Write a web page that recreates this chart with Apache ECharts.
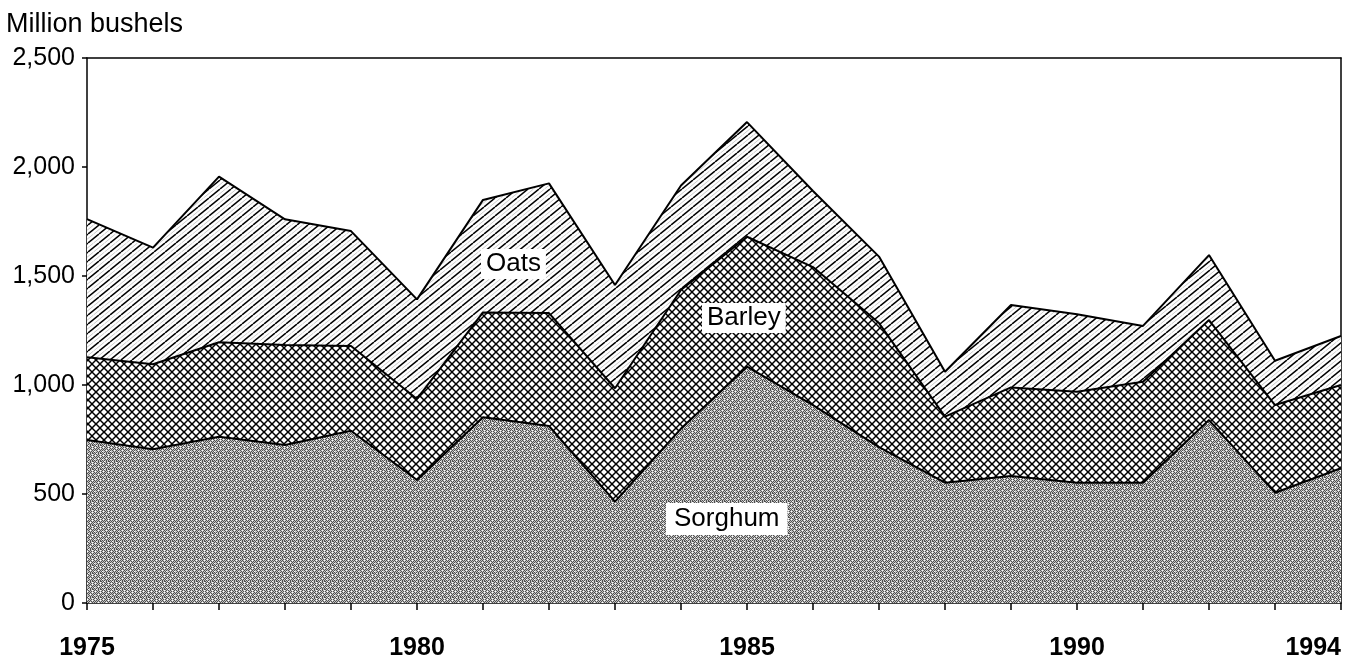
<!DOCTYPE html>
<html>
<head>
<meta charset="utf-8">
<script src="https://cdn.jsdelivr.net/npm/echarts@6/dist/echarts.min.js"></script>
<style>
html,body{margin:0;padding:0;background:#fff;}
#c{width:1348px;height:664px;}
</style>
</head>
<body>
<div id="c"></div>
<script>
const years = ['1975','1976','1977','1978','1979','1980','1981','1982','1983','1984','1985','1986','1987','1988','1989','1990','1991','1992','1993','1994'];
const sorghum = [748,705,763,725,790,564,852,812,465,800,1084,908,715,552,583,552,552,839,506,618];
const barley  = [379,390,433,458,389,372,481,518,520,636,596,633,569,303,406,417,463,459,402,382];
const oats    = [634,535,760,577,527,457,516,595,474,479,526,349,305,206,378,356,256,298,203,225];
const yTicks = [0,500,1000,1500,2000,2500];
const shownYears = ['1975','1980','1985','1990','1994'];

function mkCanvas(w,h){const c=document.createElement('canvas');c.width=w;c.height=h;return c;}

// Oats: "/" hatch with faint dotted intermediate lines
function oatsPattern(){
  const w=11,h=9,c=mkCanvas(w,h),g=c.getContext('2d');
  g.fillStyle='#fff';g.fillRect(0,0,w,h);
  g.strokeStyle='rgba(0,0,0,0.3)';g.lineWidth=0.7;
  for(const o of [-w/2,w/2]){g.beginPath();g.moveTo(o,h);g.lineTo(o+w,0);g.stroke();}
  g.strokeStyle='#000';g.lineWidth=1.5;
  for(const o of [-w,0,w]){g.beginPath();g.moveTo(o,h);g.lineTo(o+w,0);g.stroke();}
  return c;
}
// Barley: diagonal crosshatch
function barleyPattern(){
  const s=8,c=mkCanvas(s,s),g=c.getContext('2d');
  g.fillStyle='#fff';g.fillRect(0,0,s,s);
  g.strokeStyle='#000';g.lineWidth=1.5;
  for(const o of [-s,0,s]){
    g.beginPath();g.moveTo(o,s);g.lineTo(o+s,0);g.stroke();
    g.beginPath();g.moveTo(o,0);g.lineTo(o+s,s);g.stroke();
  }
  return c;
}
// Sorghum: gray stipple (fixed dither table)
function sorghumPattern(){
  const map=[
    'd.d.w.d.',
    '.d.d.d.d',
    'd.w.d.d.',
    '.d.d.dw.',
    'd.d.d.d.',
    'w.d.dd.d',
    'd.d.w.d.',
    '.d.d.d.w'];
  const s=8,c=mkCanvas(s,s),g=c.getContext('2d');
  for(let y=0;y<s;y++)for(let x=0;x<s;x++){
    const ch=map[y][x];
    g.fillStyle= ch==='d' ? '#505050' : (ch==='w' ? '#ffffff' : '#c4c4c4');
    g.fillRect(x,y,1,1);
  }
  return c;
}

const chart = echarts.init(document.getElementById('c'), null, {renderer:'canvas'});
const fontFam = 'Liberation Sans, Arial, Helvetica, sans-serif';
const lineSt = {color:'#000', width:2};

function mkSeries(name, data, pat){
  return {
    name, type:'line', stack:'total', data, symbol:'none', smooth:false,
    lineStyle: lineSt,
    areaStyle: {color:{image:pat, repeat:'repeat'}, opacity:1},
    emphasis:{disabled:true}, silent:true
  };
}

chart.setOption({
  animation:false,
  backgroundColor:'#fff',
  title:{text:'Million bushels', left:1, top:6,
    textStyle:{fontFamily:fontFam, fontSize:27, fontWeight:'normal', color:'#000'}},
  grid:{left:87, right:7, top:58, bottom:61, containLabel:false},
  xAxis:[{
    type:'category', data:years, boundaryGap:false,
    axisLine:{show:true, lineStyle:{color:'#000', width:1.5}},
    axisTick:{show:true, interval:0, length:7, lineStyle:{color:'#000', width:1.5}},
    axisLabel:{
      interval:(i,v)=>shownYears.includes(v),
      margin:33, fontFamily:fontFam, fontSize:25, fontWeight:'bold', color:'#000',
      alignMaxLabel:'right'
    },
    splitLine:{show:false}
  },{
    type:'category', data:years, boundaryGap:false, position:'top',
    axisLine:{show:true, onZero:false, lineStyle:{color:'#000', width:1.5}},
    axisTick:{show:false}, axisLabel:{show:false}
  }],
  yAxis:[{
    type:'value', min:0, max:2500, interval:500,
    axisLine:{show:true, lineStyle:{color:'#000', width:1.5}},
    axisTick:{show:true, length:5, lineStyle:{color:'#000', width:1.5}},
    axisLabel:{margin:12, fontFamily:fontFam, fontSize:25, color:'#000',
      formatter:v=>v.toLocaleString('en-US')},
    splitLine:{show:false}
  },{
    type:'value', min:0, max:2500, interval:500, position:'right',
    axisLine:{show:true, onZero:false, lineStyle:{color:'#000', width:1.5}},
    axisTick:{show:false}, axisLabel:{show:false}, splitLine:{show:false}
  }],
  series:[
    mkSeries('Sorghum', sorghum, sorghumPattern()),
    mkSeries('Barley', barley, barleyPattern()),
    mkSeries('Oats', oats, oatsPattern())
  ],
  graphic:[
    {type:'text', left:481, top:249, z:100, style:{text:'Oats', font:'26px '+fontFam, fill:'#000', backgroundColor:'#fff', padding:[2,5,2,5]}},
    {type:'text', left:702, top:303, z:100, style:{text:'Barley', font:'26px '+fontFam, fill:'#000', backgroundColor:'#fff', padding:[2,5,2,5]}},
    {type:'text', left:666, top:503, z:100, style:{text:'Sorghum', font:'26px '+fontFam, fill:'#000', backgroundColor:'#fff', padding:[3,8,3,8]}}
  ]
});
</script>
</body>
</html>
